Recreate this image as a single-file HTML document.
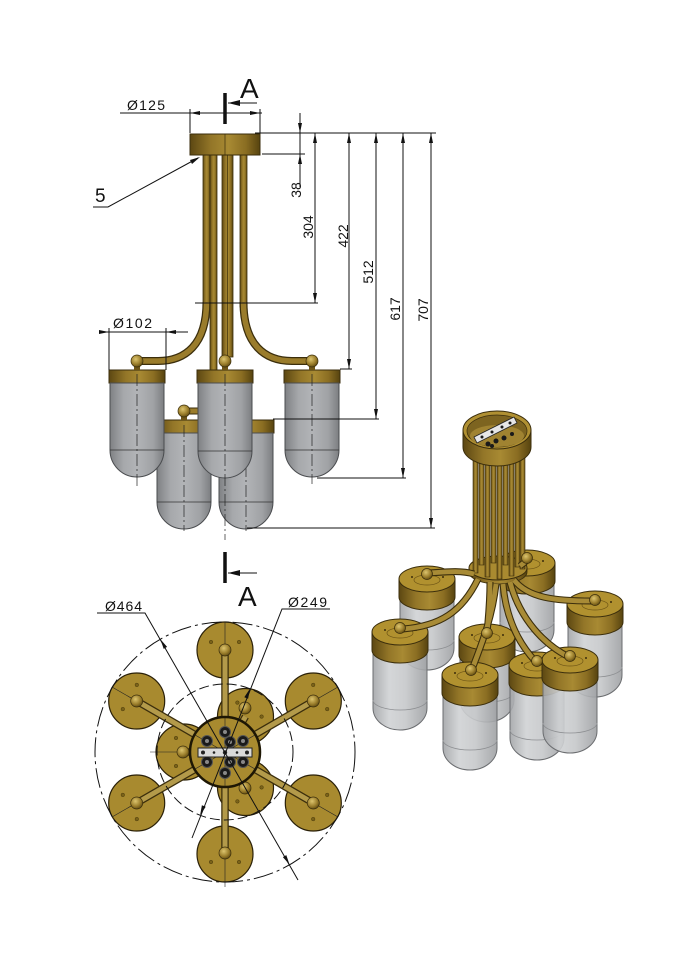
<!DOCTYPE html>
<html><head><meta charset="utf-8"><style>
html,body{margin:0;padding:0;background:#fff;}
svg{display:block;}
text{font-family:"Liberation Sans",Arial,sans-serif;fill:#111;}
</style></head><body>
<svg width="687" height="958" viewBox="0 0 687 958" xmlns="http://www.w3.org/2000/svg">
<defs>
<linearGradient id="gH" x1="0" x2="1" y1="0" y2="0">
<stop offset="0" stop-color="#5c4712"/><stop offset=".3" stop-color="#937628"/><stop offset=".55" stop-color="#a88a33"/><stop offset=".8" stop-color="#8a6d22"/><stop offset="1" stop-color="#56430f"/>
</linearGradient>
<linearGradient id="glH" x1="0" x2="1" y1="0" y2="0">
<stop offset="0" stop-color="#7f8184"/><stop offset=".25" stop-color="#a6a8ab"/><stop offset=".5" stop-color="#b2b4b7"/><stop offset=".8" stop-color="#a0a2a5"/><stop offset="1" stop-color="#7c7e81"/>
</linearGradient>
<linearGradient id="glI" x1="0" x2="1" y1="0" y2="0">
<stop offset="0" stop-color="#a3a5a8"/><stop offset=".3" stop-color="#d0d2d4"/><stop offset=".6" stop-color="#c6c8ca"/><stop offset="1" stop-color="#9ea0a3"/>
</linearGradient>
<radialGradient id="ball" cx=".4" cy=".35" r=".7"><stop offset="0" stop-color="#dcc46e"/><stop offset=".6" stop-color="#9c7f2c"/><stop offset="1" stop-color="#5a4610"/></radialGradient>
</defs>
<rect width="687" height="958" fill="#fff"/>

<!-- ============ FRONT VIEW ============ -->
<g stroke="#3b2e0c" stroke-width=".8" fill="url(#gH)">
<rect x="203" y="155" width="7" height="152"/>
<rect x="210" y="155" width="7" height="215"/>
<rect x="222" y="155" width="11" height="202"/>
<rect x="240" y="155" width="7" height="152"/>
</g>
<line x1="227.5" y1="155" x2="227.5" y2="357" stroke="#3b2e0c" stroke-width=".7"/>
<g fill="none" stroke-linecap="butt">
<path d="M206.5,302 C206.5,345 185,361 158,361 L140,361" stroke="#3b2e0c" stroke-width="8"/>
<path d="M206.5,302 C206.5,345 185,361 158,361 L140,361" stroke="#9a7c2b" stroke-width="5.5"/>
<path d="M243.5,302 C243.5,345 265,361 292,361 L309,361" stroke="#3b2e0c" stroke-width="8"/>
<path d="M243.5,302 C243.5,345 265,361 292,361 L309,361" stroke="#9a7c2b" stroke-width="5.5"/>
<path d="M184,411 L215,411" stroke="#3b2e0c" stroke-width="7"/>
<path d="M184,411 L215,411" stroke="#9a7c2b" stroke-width="5"/>
</g>
<rect x="190" y="134" width="70" height="21" fill="url(#gH)" stroke="#3b2e0c" stroke-width="1"/>
<line x1="225" y1="134" x2="225" y2="155" stroke="#3b2e0c" stroke-width=".7"/>

<g stroke-width="1">
<rect x="156" y="420" width="56" height="13" fill="url(#gH)" stroke="#3b2e0c"/>
<path d="M157,433 V502 A27,27 0 0 0 211,502 V433 Z" fill="url(#glH)" stroke="#4a4c4f"/>
<line x1="157" y1="502" x2="211" y2="502" stroke="#333" stroke-width=".8"/>
<rect x="218" y="420" width="56" height="13" fill="url(#gH)" stroke="#3b2e0c"/>
<path d="M219,433 V502 A27,27 0 0 0 273,502 V433 Z" fill="url(#glH)" stroke="#4a4c4f"/>
<line x1="219" y1="502" x2="273" y2="502" stroke="#333" stroke-width=".8"/>
</g>
<rect x="181" y="414" width="6" height="6" fill="#6e5618"/>
<circle cx="184" cy="411" r="6" fill="url(#ball)" stroke="#3b2e0c" stroke-width=".7"/>
<g stroke="#222" stroke-width=".7" stroke-dasharray="12 3 2 3" fill="none">
<line x1="184" y1="425" x2="184" y2="531"/>
<line x1="246" y1="425" x2="246" y2="531"/>
</g>

<g stroke-width="1">
<rect x="109" y="370" width="56" height="13" fill="url(#gH)" stroke="#3b2e0c"/>
<path d="M110,383 V450 A27,27 0 0 0 164,450 V383 Z" fill="url(#glH)" stroke="#4a4c4f"/>
<line x1="110" y1="450" x2="164" y2="450" stroke="#333" stroke-width=".8"/>
<rect x="197" y="370" width="56" height="13" fill="url(#gH)" stroke="#3b2e0c"/>
<path d="M198,383 V451 A27,27 0 0 0 252,451 V383 Z" fill="url(#glH)" stroke="#4a4c4f"/>
<line x1="198" y1="451" x2="252" y2="451" stroke="#333" stroke-width=".8"/>
<rect x="284" y="370" width="56" height="13" fill="url(#gH)" stroke="#3b2e0c"/>
<path d="M285,383 V450 A27,27 0 0 0 339,450 V383 Z" fill="url(#glH)" stroke="#4a4c4f"/>
<line x1="285" y1="450" x2="339" y2="450" stroke="#333" stroke-width=".8"/>
</g>
<g fill="#6e5618">
<rect x="134" y="364" width="6" height="6"/><rect x="222" y="364" width="6" height="6"/><rect x="309" y="364" width="6" height="6"/>
</g>
<g fill="url(#ball)" stroke="#3b2e0c" stroke-width=".7">
<circle cx="137" cy="361" r="6"/><circle cx="225" cy="361" r="6"/><circle cx="312" cy="361" r="6"/>
</g>
<g stroke="#222" stroke-width=".7" stroke-dasharray="12 3 2 3" fill="none">
<line x1="137" y1="374" x2="137" y2="488"/>
<line x1="312" y1="374" x2="312" y2="484"/>
<line x1="225" y1="374" x2="225" y2="540"/>
</g>

<g stroke="#111" stroke-width="1" fill="none">
<line x1="120" y1="113" x2="262" y2="113"/>
<line x1="190" y1="109" x2="190" y2="133"/>
<line x1="260" y1="109" x2="260" y2="133"/>
<line x1="255" y1="133" x2="436" y2="133"/>
<line x1="262" y1="154" x2="305" y2="154"/>
<line x1="300" y1="113" x2="300" y2="187"/>
<line x1="195" y1="303" x2="318" y2="303"/>
<line x1="315" y1="133" x2="315" y2="303"/>
<line x1="340" y1="369" x2="352" y2="369"/>
<line x1="349" y1="133" x2="349" y2="369"/>
<line x1="273" y1="419" x2="379" y2="419"/>
<line x1="376" y1="133" x2="376" y2="419"/>
<line x1="317" y1="478" x2="406" y2="478"/>
<line x1="403" y1="133" x2="403" y2="478"/>
<line x1="247" y1="528" x2="435" y2="528"/>
<line x1="431" y1="133" x2="431" y2="528"/>
<line x1="100" y1="332" x2="188" y2="332"/>
<line x1="109" y1="328" x2="109" y2="370"/>
<line x1="166" y1="328" x2="166" y2="370"/>
<polyline points="93,207 108,207 198,158"/>
<line x1="228" y1="103" x2="257" y2="103"/>
<line x1="228" y1="573" x2="257" y2="573"/>
</g>
<g fill="#111">
<polygon points="190,113 200,111 200,115"/>
<polygon points="260,113 250,111 250,115"/>
<polygon points="300,133 298,123 302,123"/>
<polygon points="300,154 298,164 302,164"/>
<polygon points="315,133 313,143 317,143"/>
<polygon points="315,303 313,293 317,293"/>
<polygon points="349,133 347,143 351,143"/>
<polygon points="349,369 347,359 351,359"/>
<polygon points="376,133 374,143 378,143"/>
<polygon points="376,419 374,409 378,409"/>
<polygon points="403,133 401,143 405,143"/>
<polygon points="403,478 401,468 405,468"/>
<polygon points="431,133 429,143 433,143"/>
<polygon points="431,528 429,518 433,518"/>
<polygon points="109,332 99,330 99,334"/>
<polygon points="166,332 176,330 176,334"/>
<polygon points="200,157 190,160 192,164"/>
<polygon points="228,103 240,100 240,106"/>
<polygon points="228,573 240,570 240,576"/>
</g>
<line x1="225" y1="93" x2="225" y2="124" stroke="#111" stroke-width="3.5"/>
<line x1="225" y1="552" x2="225" y2="583" stroke="#111" stroke-width="3.5"/>
<text x="240" y="98" font-size="28">A</text>
<text x="238" y="606" font-size="28">A</text>
<text x="95" y="202" font-size="19">5</text>
<text x="127" y="110" font-size="14" textLength="38">Ø125</text>
<text x="113" y="328" font-size="14" textLength="39">Ø102</text>
<g font-size="14" text-anchor="middle">
<text transform="translate(301,190) rotate(-90)">38</text>
<text transform="translate(313,227) rotate(-90)">304</text>
<text transform="translate(348,236) rotate(-90)">422</text>
<text transform="translate(373,272) rotate(-90)">512</text>
<text transform="translate(400,309) rotate(-90)">617</text>
<text transform="translate(428,310) rotate(-90)">707</text>
</g>

<!-- ============ BOTTOM VIEW ============ -->
<g fill="#a88a2f" stroke="#2a2008" stroke-width="1.2">
<circle cx="225" cy="650" r="28"/>
<circle cx="136.7" cy="701" r="28"/>
<circle cx="136.7" cy="803" r="28"/>
<circle cx="225" cy="854" r="28"/>
<circle cx="313.3" cy="803" r="28"/>
<circle cx="313.3" cy="701" r="28"/>
<circle cx="184" cy="752" r="28"/>
<circle cx="245.5" cy="716.5" r="28"/>
<circle cx="245.5" cy="787.5" r="28"/>
</g>
<g fill="#7a6218" stroke="#4a3a0c" stroke-width=".5">
<circle cx="211" cy="642" r="1.8"/><circle cx="239" cy="642" r="1.8"/>
<circle cx="136.8" cy="684.9" r="1.8"/><circle cx="122.8" cy="709.1" r="1.8"/>
<circle cx="122.8" cy="794.9" r="1.8"/><circle cx="136.8" cy="819.1" r="1.8"/>
<circle cx="211" cy="862" r="1.8"/><circle cx="239" cy="862" r="1.8"/>
<circle cx="313.2" cy="819.1" r="1.8"/><circle cx="327.2" cy="794.9" r="1.8"/>
<circle cx="327.2" cy="709.1" r="1.8"/><circle cx="313.2" cy="684.9" r="1.8"/>
<circle cx="176" cy="738" r="1.8"/><circle cx="176" cy="766" r="1.8"/>
<circle cx="261.6" cy="716.6" r="1.8"/><circle cx="237.4" cy="702.6" r="1.8"/>
<circle cx="261.6" cy="787.4" r="1.8"/><circle cx="237.4" cy="801.4" r="1.8"/>
</g>
<g stroke="#222" stroke-width=".6" fill="none">
<line x1="225" y1="622" x2="225" y2="887"/>
<line x1="225" y1="752" x2="112" y2="687"/>
<line x1="225" y1="752" x2="112" y2="817"/>
<line x1="225" y1="752" x2="338" y2="687"/>
<line x1="225" y1="752" x2="338" y2="817"/>
<line x1="150" y1="752" x2="190" y2="752"/>
</g>
<g stroke="#3b2e0c" stroke-width="7.5" fill="none">
<line x1="225" y1="752" x2="225" y2="650"/>
<line x1="225" y1="752" x2="136.7" y2="701"/>
<line x1="225" y1="752" x2="136.7" y2="803"/>
<line x1="225" y1="752" x2="225" y2="854"/>
<line x1="225" y1="752" x2="313.3" y2="803"/>
<line x1="225" y1="752" x2="313.3" y2="701"/>
<line x1="225" y1="752" x2="184" y2="752"/>
<line x1="225" y1="752" x2="245.5" y2="716.5"/>
<line x1="225" y1="752" x2="245.5" y2="787.5"/>
</g>
<g stroke="#b39a4a" stroke-width="5" fill="none">
<line x1="225" y1="752" x2="225" y2="650"/>
<line x1="225" y1="752" x2="136.7" y2="701"/>
<line x1="225" y1="752" x2="136.7" y2="803"/>
<line x1="225" y1="752" x2="225" y2="854"/>
<line x1="225" y1="752" x2="313.3" y2="803"/>
<line x1="225" y1="752" x2="313.3" y2="701"/>
<line x1="225" y1="752" x2="184" y2="752"/>
<line x1="225" y1="752" x2="245.5" y2="716.5"/>
<line x1="225" y1="752" x2="245.5" y2="787.5"/>
</g>
<g fill="url(#ball)" stroke="#3b2e0c" stroke-width=".7">
<circle cx="225" cy="650" r="6"/>
<circle cx="136.7" cy="701" r="6"/>
<circle cx="136.7" cy="803" r="6"/>
<circle cx="225" cy="853" r="6"/>
<circle cx="313.3" cy="803" r="6"/>
<circle cx="313.3" cy="701" r="6"/>
<circle cx="183" cy="752" r="6"/>
<circle cx="245" cy="708" r="6"/>
<circle cx="245" cy="788" r="6"/>
</g>
<circle cx="225" cy="752" r="35" fill="#a88a2f" stroke="#1e1704" stroke-width="2.5"/>
<g stroke="#222" stroke-width=".6">
<line x1="225" y1="752" x2="195" y2="735"/>
<line x1="225" y1="752" x2="255" y2="769"/>
<line x1="225" y1="752" x2="255" y2="735"/>
<line x1="225" y1="752" x2="195" y2="769"/>
<line x1="225" y1="718" x2="225" y2="786"/>
</g>
<g fill="#1a1a1a" stroke="#555" stroke-width="1">
<circle cx="225" cy="732" r="5.5"/>
<circle cx="207" cy="741" r="5.5"/>
<circle cx="230" cy="742" r="5.5"/>
<circle cx="243" cy="741" r="5.5"/>
<circle cx="207" cy="762" r="5.5"/>
<circle cx="230" cy="762" r="5.5"/>
<circle cx="243" cy="762" r="5.5"/>
<circle cx="225" cy="773" r="5.5"/>
</g>
<g fill="#888">
<circle cx="225" cy="732" r="2"/><circle cx="207" cy="741" r="2"/><circle cx="230" cy="742" r="2"/><circle cx="243" cy="741" r="2"/>
<circle cx="207" cy="762" r="2"/><circle cx="230" cy="762" r="2"/><circle cx="243" cy="762" r="2"/><circle cx="225" cy="773" r="2"/>
</g>
<rect x="198" y="748" width="54" height="9" fill="#dadada" stroke="#222" stroke-width="1"/>
<g fill="#222"><circle cx="203" cy="752.5" r="2"/><circle cx="214" cy="752.5" r="1.3"/><circle cx="225" cy="752.5" r="2.2"/><circle cx="237" cy="752.5" r="1.3"/><circle cx="247" cy="752.5" r="2"/></g>
<circle cx="225" cy="752" r="130" fill="none" stroke="#111" stroke-width="1" stroke-dasharray="20 4 3 4"/>
<circle cx="225" cy="752" r="68" fill="none" stroke="#111" stroke-width="1" stroke-dasharray="10 4"/>
<g stroke="#111" stroke-width="1" fill="none">
<polyline points="97,613 145,613 298,880"/>
<polyline points="330,609 282,609 192,838"/>
</g>
<g fill="#111">
<polygon points="160.4,639.2 167.1,646.9 163.7,648.9"/>
<polygon points="289.6,864.8 286.3,855.1 282.9,857.1"/>
<polygon points="249.9,688.7 248.1,698.7 244.3,697.3"/>
<polygon points="200.1,815.3 205.7,806.7 201.9,805.3"/>
</g>
<text x="105" y="611" font-size="14" textLength="37">Ø464</text>
<text x="288" y="607" font-size="14" textLength="39">Ø249</text>

<!-- ============ ISO VIEW ============ -->
<g stroke-width="1">
<path d="M500,580 V630 A27,22 0 0 0 554,630 V580 Z" fill="url(#glI)" fill-opacity=".9" stroke="#6b6d70"/>
<path d="M500,622 A27,10 0 0 0 554,622" fill="none" stroke="#8d8f92" stroke-width=".8"/>
<path d="M499,563 V581 A28,13 0 0 0 555,581 V563 Z" fill="url(#gH)" stroke="#3b2e0c"/>
<ellipse cx="527" cy="563" rx="28" ry="13" fill="#b1912f" stroke="#3b2e0c"/>
<ellipse cx="527" cy="564" rx="13" ry="5" fill="none" stroke="#6e5516" stroke-width=".7"/>
</g>
<g stroke-width="1">
<path d="M400,596 V648 A27,22 0 0 0 454,648 V596 Z" fill="url(#glI)" fill-opacity=".9" stroke="#6b6d70"/>
<path d="M400,640 A27,10 0 0 0 454,640" fill="none" stroke="#8d8f92" stroke-width=".8"/>
<path d="M399,579 V597 A28,13 0 0 0 455,597 V579 Z" fill="url(#gH)" stroke="#3b2e0c"/>
<ellipse cx="427" cy="579" rx="28" ry="13" fill="#b1912f" stroke="#3b2e0c"/>
<ellipse cx="427" cy="580" rx="13" ry="5" fill="none" stroke="#6e5516" stroke-width=".7"/>
</g>
<g stroke-width="1">
<path d="M568,621 V675 A27,22 0 0 0 622,675 V621 Z" fill="url(#glI)" fill-opacity=".9" stroke="#6b6d70"/>
<path d="M568,667 A27,10 0 0 0 622,667" fill="none" stroke="#8d8f92" stroke-width=".8"/>
<path d="M567,604 V622 A28,13 0 0 0 623,622 V604 Z" fill="url(#gH)" stroke="#3b2e0c"/>
<ellipse cx="595" cy="604" rx="28" ry="13" fill="#b1912f" stroke="#3b2e0c"/>
<ellipse cx="595" cy="605" rx="13" ry="5" fill="none" stroke="#6e5516" stroke-width=".7"/>
</g>
<g stroke-width="1">
<path d="M373,649 V708 A27,22 0 0 0 427,708 V649 Z" fill="url(#glI)" fill-opacity=".9" stroke="#6b6d70"/>
<path d="M373,700 A27,10 0 0 0 427,700" fill="none" stroke="#8d8f92" stroke-width=".8"/>
<path d="M372,632 V650 A28,13 0 0 0 428,650 V632 Z" fill="url(#gH)" stroke="#3b2e0c"/>
<ellipse cx="400" cy="632" rx="28" ry="13" fill="#b1912f" stroke="#3b2e0c"/>
<ellipse cx="400" cy="633" rx="13" ry="5" fill="none" stroke="#6e5516" stroke-width=".7"/>
</g>
<g stroke-width="1">
<path d="M460,654 V700 A27,22 0 0 0 514,700 V654 Z" fill="url(#glI)" fill-opacity=".9" stroke="#6b6d70"/>
<path d="M460,692 A27,10 0 0 0 514,692" fill="none" stroke="#8d8f92" stroke-width=".8"/>
<path d="M459,637 V655 A28,13 0 0 0 515,655 V637 Z" fill="url(#gH)" stroke="#3b2e0c"/>
<ellipse cx="487" cy="637" rx="28" ry="13" fill="#b1912f" stroke="#3b2e0c"/>
<ellipse cx="487" cy="638" rx="13" ry="5" fill="none" stroke="#6e5516" stroke-width=".7"/>
</g>
<g stroke-width="1">
<path d="M510,682 V738 A27,22 0 0 0 564,738 V682 Z" fill="url(#glI)" fill-opacity=".9" stroke="#6b6d70"/>
<path d="M510,730 A27,10 0 0 0 564,730" fill="none" stroke="#8d8f92" stroke-width=".8"/>
<path d="M509,665 V683 A28,13 0 0 0 565,683 V665 Z" fill="url(#gH)" stroke="#3b2e0c"/>
<ellipse cx="537" cy="665" rx="28" ry="13" fill="#b1912f" stroke="#3b2e0c"/>
<ellipse cx="537" cy="666" rx="13" ry="5" fill="none" stroke="#6e5516" stroke-width=".7"/>
</g>
<g stroke-width="1">
<path d="M543,677 V731 A27,22 0 0 0 597,731 V677 Z" fill="url(#glI)" fill-opacity=".9" stroke="#6b6d70"/>
<path d="M543,723 A27,10 0 0 0 597,723" fill="none" stroke="#8d8f92" stroke-width=".8"/>
<path d="M542,660 V678 A28,13 0 0 0 598,678 V660 Z" fill="url(#gH)" stroke="#3b2e0c"/>
<ellipse cx="570" cy="660" rx="28" ry="13" fill="#b1912f" stroke="#3b2e0c"/>
<ellipse cx="570" cy="661" rx="13" ry="5" fill="none" stroke="#6e5516" stroke-width=".7"/>
</g>
<g stroke-width="1">
<path d="M443,692 V748 A27,22 0 0 0 497,748 V692 Z" fill="url(#glI)" fill-opacity=".9" stroke="#6b6d70"/>
<path d="M443,740 A27,10 0 0 0 497,740" fill="none" stroke="#8d8f92" stroke-width=".8"/>
<path d="M442,675 V693 A28,13 0 0 0 498,693 V675 Z" fill="url(#gH)" stroke="#3b2e0c"/>
<ellipse cx="470" cy="675" rx="28" ry="13" fill="#b1912f" stroke="#3b2e0c"/>
<ellipse cx="470" cy="676" rx="13" ry="5" fill="none" stroke="#6e5516" stroke-width=".7"/>
</g>
<g fill="#3b2e0c">
<circle cx="412" cy="577" r="1"/><circle cx="443" cy="577" r="1"/>
<circle cx="512" cy="561" r="1"/><circle cx="543" cy="561" r="1"/>
<circle cx="580" cy="602" r="1"/><circle cx="611" cy="602" r="1"/>
<circle cx="385" cy="630" r="1"/><circle cx="416" cy="630" r="1"/>
<circle cx="472" cy="635" r="1"/><circle cx="503" cy="635" r="1"/>
<circle cx="522" cy="663" r="1"/>
<circle cx="555" cy="658" r="1"/><circle cx="586" cy="658" r="1"/>
<circle cx="455" cy="673" r="1"/><circle cx="486" cy="673" r="1"/>
</g>

<path d="M469,568 V572 A29,12 0 0 0 527,572 V568 Z" fill="url(#gH)" stroke="#3b2e0c" stroke-width=".8"/>
<ellipse cx="498" cy="568" rx="29" ry="12" fill="#a98a30" stroke="#3b2e0c" stroke-width="1"/>
<g fill="url(#gH)" stroke="#3b2e0c" stroke-width=".6">
<rect x="479" y="455" width="5" height="110"/>
<rect x="491" y="455" width="5" height="108"/>
<rect x="503" y="455" width="5" height="110"/>
<rect x="515" y="455" width="5" height="112"/>
<rect x="473" y="455" width="5" height="118"/>
<rect x="485" y="455" width="5" height="122"/>
<rect x="497" y="455" width="5" height="124"/>
<rect x="509" y="455" width="5" height="121"/>
<rect x="520" y="455" width="5" height="114"/>
</g>
<path d="M463,430 V447 A34,19 0 0 0 531,447 V430 Z" fill="url(#gH)" stroke="#3b2e0c" stroke-width="1"/>
<ellipse cx="497" cy="430" rx="34" ry="19" fill="#b09032" stroke="#3b2e0c" stroke-width="1"/>
<ellipse cx="497" cy="431" rx="30" ry="16" fill="#7d6420" stroke="#3b2e0c" stroke-width=".7"/>
<ellipse cx="497" cy="436" rx="27" ry="11" fill="#a08331"/>
<polygon points="474,437 514,417 517,423 477,443" fill="#e6e6e6" stroke="#222" stroke-width=".8"/>
<g fill="#1a1a1a">
<circle cx="482" cy="437" r="1.5"/><circle cx="492" cy="432" r="1.5"/><circle cx="502" cy="427" r="1.5"/><circle cx="510" cy="423" r="1.5"/>
<circle cx="488" cy="444" r="2.5"/><circle cx="496" cy="441" r="2.5"/><circle cx="504" cy="438" r="2.5"/><circle cx="492" cy="446" r="2"/><circle cx="512" cy="434" r="2"/>
</g>

<g fill="none" stroke="#3b2e0c" stroke-width="7">
<path d="M474,574 C460,570 445,572 430,573"/>
<path d="M520,566 C524,563 526,561 527,560"/>
<path d="M514,580 C528,598 555,601 592,601"/>
<path d="M478,579 C462,612 440,626 403,629"/>
<path d="M490,582 C490,605 488,620 487,634"/>
<path d="M496,584 C492,620 480,648 471,672"/>
<path d="M503,584 C506,620 520,645 536,662"/>
<path d="M510,582 C520,620 545,645 569,657"/>
</g>
<g fill="none" stroke="#a88b36" stroke-width="4.8">
<path d="M474,574 C460,570 445,572 430,573"/>
<path d="M520,566 C524,563 526,561 527,560"/>
<path d="M514,580 C528,598 555,601 592,601"/>
<path d="M478,579 C462,612 440,626 403,629"/>
<path d="M490,582 C490,605 488,620 487,634"/>
<path d="M496,584 C492,620 480,648 471,672"/>
<path d="M503,584 C506,620 520,645 536,662"/>
<path d="M510,582 C520,620 545,645 569,657"/>
</g>
<g fill="url(#ball)" stroke="#3b2e0c" stroke-width=".7">
<circle cx="427" cy="574" r="5.5"/>
<circle cx="527" cy="558" r="5.5"/>
<circle cx="595" cy="600" r="5.5"/>
<circle cx="400" cy="628" r="5.5"/>
<circle cx="487" cy="633" r="5.5"/>
<circle cx="537" cy="661" r="5.5"/>
<circle cx="570" cy="656" r="5.5"/>
<circle cx="471" cy="670" r="5.5"/>
</g>
</svg>
</body></html>
